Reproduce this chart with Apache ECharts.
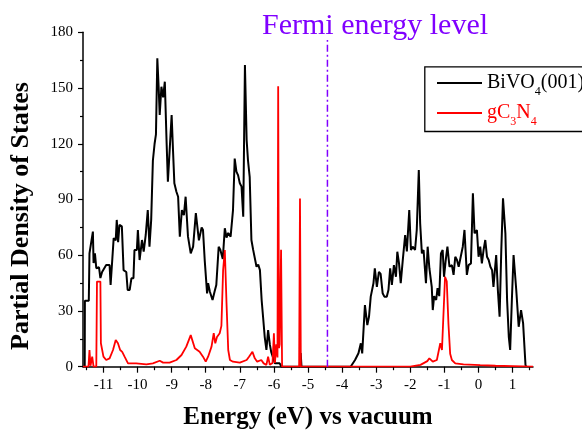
<!DOCTYPE html>
<html>
<head>
<meta charset="utf-8">
<script src="https://cdn.jsdelivr.net/npm/echarts@6/dist/echarts.min.js"></script>
<style>html,body{margin:0;padding:0;background:#fff}#c{width:582px;height:430px}</style>
</head>
<body>
<div id="c"></div>
<script>
const xTickValues = [-11, -10, -9, -8, -7, -6, -5, -4, -3, -2, -1, 0, 1];
const xMinorValues = [-11.5, -10.5, -9.5, -8.5, -7.5, -6.5, -5.5, -4.5, -3.5, -2.5, -1.5, -0.5, 0.5, 1.5];
const fermiLevel = -4.43;
const fermiTop = 175.8;
const seriesNames = ['BiVO4(001)', 'gC3N4'];

const bivo4 = [
  [-11.55,0],[-11.545,35.5],[-11.43,35.5],[-11.41,61],[-11.37,61.4],[-11.31,72.7],[-11.29,55.8],[-11.25,61],
  [-11.21,53],[-11.13,53.5],[-11.09,47.7],[-11.04,51],[-11.00,50],[-10.92,54.7],[-10.82,54.7],[-10.79,44],
  [-10.74,45],[-10.70,69.2],[-10.64,68],[-10.61,79],[-10.57,67],[-10.53,76.3],[-10.46,75.5],[-10.41,52],
  [-10.33,51],[-10.29,41.3],[-10.23,41.3],[-10.18,47.6],[-10.12,47.6],[-10.09,62.8],[-10.02,62.8],[-9.99,73.6],
  [-9.94,57.4],[-9.87,68.2],[-9.82,62],[-9.76,70.9],[-9.70,84.3],[-9.65,64.6],[-9.60,79],[-9.55,111],
  [-9.50,120],[-9.46,125],[-9.42,166],[-9.38,150],[-9.35,135.5],[-9.30,150.7],[-9.25,145],[-9.20,153.4],
  [-9.15,122],[-9.11,99.6],[-9.06,98.7],[-9.00,135.5],[-8.96,116.6],[-8.92,98.7],[-8.86,94.2],[-8.81,91.5],
  [-8.76,70],[-8.70,84.3],[-8.64,81.6],[-8.59,91.5],[-8.52,70],[-8.44,61],[-8.37,64.6],[-8.29,82.7],
  [-8.20,68],[-8.12,75],[-8.08,73.6],[-8.03,57.4],[-7.96,39.5],[-7.93,45],[-7.88,40.5],[-7.80,35.9],
  [-7.74,40.5],[-7.69,44],[-7.62,64.6],[-7.57,62.8],[-7.50,58],[-7.44,74.5],[-7.39,69.5],[-7.34,72],
  [-7.27,70],[-7.20,84.3],[-7.15,112],[-7.10,105],[-7.05,103],[-7.00,98.7],[-6.95,97],[-6.90,80.7],
  [-6.85,162.4],[-6.80,122],[-6.76,111],[-6.71,102],[-6.66,68.2],[-6.61,63],[-6.56,63.5],[-6.51,53.8],
  [-6.46,55],[-6.41,52],[-6.36,35.9],[-6.31,25],[-6.27,16.1],[-6.22,9],[-6.17,19.7],[-6.12,12],
  [-6.08,8],[-6.04,9],[-5.97,1.8],[-5.83,1.8],[-5.78,0],[-5.24,0],[-5.215,7.3],[-5.19,0],
  [-3.75,0],[-3.72,0.5],[-3.62,3.6],[-3.52,7.2],[-3.45,12.6],[-3.41,7.2],[-3.33,33.2],[-3.26,22.4],
  [-3.21,27],[-3.16,37.7],[-3.08,44.9],[-3.04,53],[-2.98,43],[-2.92,51.1],[-2.87,50],[-2.81,39.5],
  [-2.76,37.7],[-2.69,37.7],[-2.64,41.3],[-2.59,53],[-2.54,44],[-2.48,54.7],[-2.42,48.4],[-2.38,61.9],
  [-2.33,55.6],[-2.28,44.9],[-2.22,57.4],[-2.15,70.9],[-2.10,62],[-2.03,84.3],[-1.98,62.8],[-1.93,64.6],
  [-1.86,62.8],[-1.81,73.6],[-1.75,105.9],[-1.71,77.2],[-1.66,61],[-1.61,62.8],[-1.54,44.9],[-1.49,64.6],
  [-1.44,53],[-1.37,43],[-1.34,30.5],[-1.30,38],[-1.24,35.9],[-1.20,42.3],[-1.15,38],[-1.10,61],
  [-1.05,62.8],[-1.01,48.4],[-0.96,57.4],[-0.91,64.6],[-0.85,53.8],[-0.78,54.7],[-0.73,49.4],[-0.68,59.2],
  [-0.63,57.4],[-0.58,53.8],[-0.52,59.2],[-0.46,64.6],[-0.41,73.6],[-0.34,49.4],[-0.29,54.7],[-0.22,55.6],
  [-0.163,93.3],[-0.115,71.8],[-0.046,73.6],[0.003,59.2],[0.052,64.6],[0.10,55.6],[0.15,62.8],[0.20,68.2],
  [0.25,59.2],[0.30,57.4],[0.35,53.8],[0.40,52],[0.44,43],[0.52,60.1],[0.57,41],[0.62,26.9],
  [0.67,62.8],[0.72,90.6],[0.79,71.8],[0.84,35.9],[0.89,16.1],[0.93,9],[0.98,35.9],[1.03,60.1],
  [1.11,41],[1.18,21.5],[1.25,30.5],[1.31,23.3],[1.38,0.9],[1.40,0]
];

const gc3n4 = [
  [-11.6,0],[-11.44,0],[-11.41,9],[-11.38,0.5],[-11.33,5.4],[-11.29,0],[-11.21,0],[-11.19,45.8],
  [-11.09,45.8],[-11.075,12.6],[-11.04,13.5],[-11.0,5.4],[-10.92,3.6],[-10.82,4.5],[-10.72,9],[-10.64,14.4],
  [-10.575,12.6],[-10.51,9],[-10.45,8],[-10.38,5.4],[-10.28,1.8],[-10.04,1.8],[-9.74,1.2],[-9.55,1.8],
  [-9.35,3.2],[-9.25,2.2],[-9.06,2.2],[-8.86,3.6],[-8.71,6.3],[-8.57,10.8],[-8.44,17],[-8.32,9.9],
  [-8.18,8.1],[-8.08,5.4],[-8.0,2.7],[-7.93,5.4],[-7.83,10.8],[-7.765,18],[-7.72,12.6],[-7.67,16],
  [-7.59,18],[-7.54,22],[-7.49,52],[-7.44,62.8],[-7.39,34],[-7.34,9],[-7.29,3.6],[-7.20,2.7],
  [-7.0,2.2],[-6.80,3.6],[-6.73,5.4],[-6.63,8],[-6.56,4.5],[-6.49,2.7],[-6.37,3.6],[-6.30,1.8],
  [-6.22,1],[-6.17,5.4],[-6.12,1],[-6.04,2],[-6.00,18],[-5.97,2],[-5.93,12],[-5.895,5],
  [-5.875,151],[-5.85,10],[-5.83,12],[-5.79,63],[-5.76,0],[-5.26,0],[-5.235,90.6],[-5.21,0],
  [-2.0,0],[-1.7,1],[-1.5,3],[-1.44,4.5],[-1.34,2.7],[-1.22,3.6],[-1.12,12.6],[-1.07,9],
  [-0.98,48.4],[-0.93,46],[-0.88,23],[-0.83,7],[-0.78,3.6],[-0.68,1.8],[-0.44,1.2],[0.05,0.8],
  [0.5,0.5],[1.0,0.3],[1.6,0]
];

const serif = 'Liberation Serif';
const violet = '#8000FF';
const chart = echarts.init(document.getElementById('c'), null, {renderer: 'canvas'});
chart.setOption({
  animation: false,
  backgroundColor: '#fff',
  title: {
    text: 'Fermi energy level',
    left: 262, top: 11.6, padding: 0,
    textStyle: {fontFamily: serif, fontSize: 30, fontWeight: 'normal', color: violet}
  },
  grid: {left: 83, right: 49, top: 32.3, bottom: 63.3, containLabel: false, outerBoundsMode: 'none'},
  legend: {
    orient: 'vertical',
    left: 437, top: 68.4, padding: 0,
    icon: 'rect',
    itemWidth: 45, itemHeight: 2, itemGap: 1.2,
    data: seriesNames,
    formatter: function (n) {
      return n === seriesNames[0] ? '{b|BiVO}{bs|4}{b|(001)}' : '{r|gC}{rs|3}{r|N}{rs|4}';
    },
    textStyle: {
      fontFamily: serif, fontSize: 20,
      rich: {
        b: {fontFamily: serif, fontSize: 20, color: '#000', lineHeight: 22},
        bs: {fontFamily: serif, fontSize: 12, color: '#000', lineHeight: 22, padding: [17, 0, 0, 0]},
        r: {fontFamily: serif, fontSize: 20, color: '#f00', lineHeight: 22},
        rs: {fontFamily: serif, fontSize: 12, color: '#f00', lineHeight: 22, padding: [17, 0, 0, 0]}
      }
    }
  },
  graphic: [
    {type: 'rect', left: 422.3, top: 64.3, shape: {width: 200, height: 64.7},
     style: {fill: 'none', stroke: '#000', lineWidth: 1.3}, silent: true},
    {type: 'text', x: 21, y: 216, rotation: Math.PI / 2,
     style: {text: 'Partial Density of States', font: 'bold 26px "Liberation Serif"', fill: '#000',
             align: 'center', verticalAlign: 'middle'}}
  ],
  xAxis: [
    {
      type: 'value', min: -11.6, max: 1.6,
      name: 'Energy (eV) vs vacuum', nameLocation: 'middle', nameGap: 38,
      nameTextStyle: {fontFamily: serif, fontSize: 25, fontWeight: 'bold', color: '#000'},
      axisLine: {onZero: false, lineStyle: {color: '#000', width: 1.5}},
      axisTick: {show: true, length: 6, lineStyle: {color: '#000', width: 1.2}, customValues: xTickValues},
      axisLabel: {color: '#000', fontFamily: serif, fontSize: 15, margin: 11, customValues: xTickValues,
                  formatter: v => String(v)},
      splitLine: {show: false}
    },
    {
      type: 'value', min: -11.6, max: 1.6, position: 'bottom',
      axisLine: {show: false, onZero: false},
      axisTick: {show: true, length: 3.5, lineStyle: {color: '#000', width: 1.2}, customValues: xMinorValues},
      axisLabel: {show: false},
      splitLine: {show: false}
    }
  ],
  yAxis: {
    type: 'value', min: 0, max: 180, interval: 30,
    axisLine: {show: true, onZero: false, lineStyle: {color: '#000', width: 1.5}},
    axisTick: {show: true, length: 5, lineStyle: {color: '#000', width: 1.2}},
    minorTick: {show: true, splitNumber: 2, length: 3, lineStyle: {color: '#000', width: 1.2}},
    axisLabel: {color: '#000', fontFamily: serif, fontSize: 15, margin: 10},
    splitLine: {show: false}
  },
  series: [
    {name: seriesNames[0], type: 'line', data: bivo4, symbol: 'none', showSymbol: false,
     lineStyle: {color: '#000', width: 2}, itemStyle: {color: '#000'}, z: 2},
    {name: seriesNames[1], type: 'line', data: gc3n4, symbol: 'none', showSymbol: false,
     lineStyle: {color: '#f00', width: 1.8}, itemStyle: {color: '#f00'}, z: 3},
    {name: 'Fermi', type: 'line', data: [[fermiLevel, 0], [fermiLevel, fermiTop]], symbol: 'none',
     lineStyle: {color: violet, width: 1.5, type: [7, 3, 2, 3]}, z: 4}
  ]
});
</script>
</body>
</html>
